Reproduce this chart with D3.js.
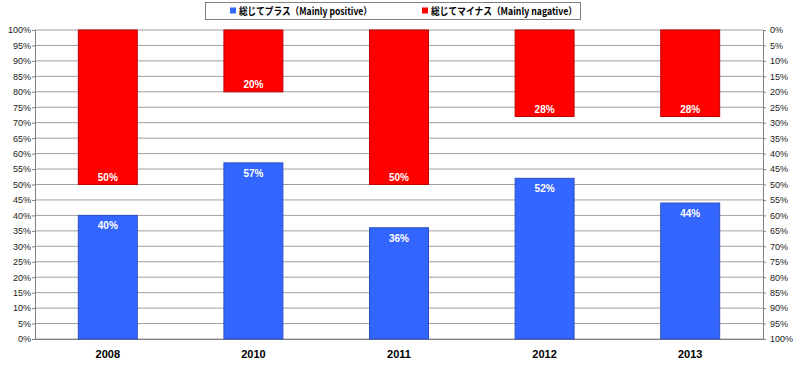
<!DOCTYPE html>
<html>
<head>
<meta charset="utf-8">
<script src="https://cdn.jsdelivr.net/npm/d3@7"></script>
<style>
  body { margin: 0; background: #fff; }
  svg { display: block; font-family: "Liberation Sans", Arial, sans-serif; }
</style>
</head>
<body>
<svg width="800" height="370"></svg>
<script>
var years = ["2008", "2010", "2011", "2012", "2013"];
var positive = [40, 57, 36, 52, 44];
var negative = [50, 20, 50, 28, 28];
var legendLabels = ["総じてプラス（Mainly positive）", "総じてマイナス（Mainly nagative）"];
var colors = ["#3366ff", "#ff0000"];
var strokes = ["#2a4fc0", "#c00000"];

var margin = {left: 35, right: 37, top: 30, bottom: 31};
var width = 800, height = 370;
var chart = d3.select("svg");

var x = d3.scaleBand().domain(years)
    .range([margin.left, width - margin.right])
    .paddingInner(0.595).paddingOuter(0.2975);
var yLeft = d3.scaleLinear().domain([0, 100]).range([height - margin.bottom, margin.top]);
var yRight = d3.scaleLinear().domain([0, 100]).range([margin.top, height - margin.bottom]);
var ticks = d3.range(0, 101, 5);

// gridlines
chart.append("g").selectAll("line").data(ticks).enter().append("line")
    .attr("x1", margin.left).attr("x2", width - margin.right)
    .attr("y1", function(d) { return yLeft(d); })
    .attr("y2", function(d) { return yLeft(d); })
    .attr("stroke", "#a0a0a0").attr("stroke-width", 1);

// axes
var leftAxis = chart.append("g")
    .attr("transform", "translate(" + margin.left + ",0)")
    .call(d3.axisLeft(yLeft).tickValues(ticks).tickSize(3).tickFormat(function(d) { return d + "%"; }));
var rightAxis = chart.append("g")
    .attr("transform", "translate(" + (width - margin.right) + ",0)")
    .call(d3.axisRight(yRight).tickValues(ticks).tickSize(3).tickFormat(function(d) { return d + "%"; }));
var bottomAxis = chart.append("g")
    .attr("transform", "translate(0," + (height - margin.bottom) + ")")
    .call(d3.axisBottom(x).tickSize(0).tickPadding(11));

[leftAxis, rightAxis].forEach(function(a) {
    a.selectAll(".domain").attr("stroke", "#808080");
    a.selectAll(".tick line").attr("stroke", "#808080");
    a.selectAll("text").attr("font-size", "9px").attr("fill", "#222");
});
leftAxis.selectAll("text").attr("x", -4);
rightAxis.selectAll("text").attr("x", 7);
bottomAxis.select(".domain").attr("stroke", "#808080");
bottomAxis.selectAll("text").attr("font-size", "11px").attr("font-weight", "bold").attr("fill", "#000");

// positive bars (left axis, from bottom)
chart.append("g").selectAll("rect").data(positive).enter().append("rect")
    .attr("x", function(d, i) { return x(years[i]); })
    .attr("width", x.bandwidth())
    .attr("y", function(d) { return yLeft(d); })
    .attr("height", function(d) { return yLeft(0) - yLeft(d); })
    .attr("fill", colors[0]).attr("stroke", strokes[0]).attr("stroke-width", 1);

// negative bars (right axis reversed, hanging from top)
chart.append("g").selectAll("rect").data(negative).enter().append("rect")
    .attr("x", function(d, i) { return x(years[i]); })
    .attr("width", x.bandwidth())
    .attr("y", yRight(0))
    .attr("height", function(d) { return yRight(d) - yRight(0); })
    .attr("fill", colors[1]).attr("stroke", strokes[1]).attr("stroke-width", 1);

// value labels
chart.append("g").selectAll("text").data(positive).enter().append("text")
    .attr("x", function(d, i) { return x(years[i]) + x.bandwidth() / 2; })
    .attr("y", function(d) { return yLeft(d) + 14; })
    .attr("text-anchor", "middle").attr("font-size", "10px").attr("font-weight", "bold")
    .attr("fill", "#fff")
    .text(function(d) { return d + "%"; });
chart.append("g").selectAll("text").data(negative).enter().append("text")
    .attr("x", function(d, i) { return x(years[i]) + x.bandwidth() / 2; })
    .attr("y", function(d) { return yRight(d) - 4; })
    .attr("text-anchor", "middle").attr("font-size", "10px").attr("font-weight", "bold")
    .attr("fill", "#fff")
    .text(function(d) { return d + "%"; });

// legend
var legend = chart.append("g");
legend.append("rect").attr("x", 205.5).attr("y", 2.5).attr("width", 375).attr("height", 17)
    .attr("fill", "#fff").attr("stroke", "#808080");
var legendX = [230, 422];
var legendTextLen = [133, 146];
legendLabels.forEach(function(lbl, i) {
    legend.append("rect").attr("x", legendX[i]).attr("y", 7.5).attr("width", 6).attr("height", 6)
        .attr("fill", colors[i]);
    legend.append("text").attr("x", legendX[i] + 9).attr("y", 15)
        .attr("font-size", "10px").attr("font-weight", "bold")
        .attr("font-family", "'Noto Sans CJK JP', sans-serif")
        .attr("textLength", legendTextLen[i]).attr("lengthAdjust", "spacingAndGlyphs")
        .text(lbl);
});
</script>
</body>
</html>
